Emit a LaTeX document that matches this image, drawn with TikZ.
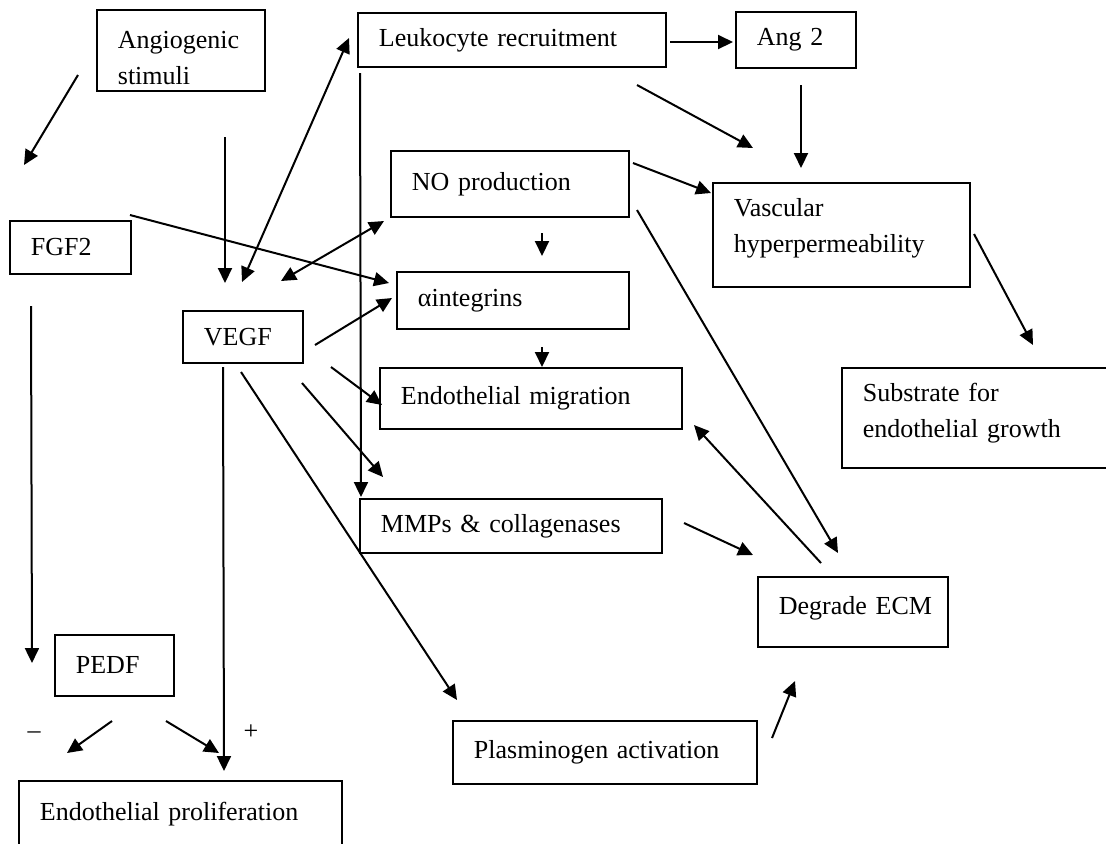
\documentclass[tikz,border=0pt]{standalone}
\usepackage{fontspec}
\setmainfont{Liberation Serif}
\usetikzlibrary{arrows.meta}

\begin{document}
\begin{tikzpicture}[x=0.5pt,y=-0.5pt]
\tikzstyle{every node}=[font=\fontsize{13}{18}\selectfont]
\tikzstyle{box}=[draw, line width=0.9pt, anchor=north west, inner xsep=10.5pt, inner ysep=0pt, align=left]
\tikzstyle{arr}=[line width=1pt, -{Triangle[length=7.5pt,width=7pt]}]
\tikzstyle{arrs}=[line width=1pt, {Triangle[length=7.5pt,width=7pt]}-{Triangle[length=7.5pt,width=7pt]}]
\useasboundingbox (0,0) rectangle (1106,843);
\clip (0,0) rectangle (1106,843);
% boxes
\draw (96,9) node (angio) [box, minimum width=84pt, minimum height=40.5pt, text width=63pt] {\rule{0pt}{16pt}Angiogenic\\stimuli};
\draw (357,12) node (leuk) [box, minimum width=154pt, minimum height=27pt, text width=133pt] {Leukocyte recruitment};
\draw (735,11) node (ang2) [box, minimum width=60pt, minimum height=28pt, text width=39pt] {Ang 2};
\draw (390,150) node (no) [box, minimum width=119pt, minimum height=33pt, text width=98pt] {NO production};
\draw (396,271) node (integ) [box, minimum width=116pt, minimum height=28.5pt, text width=95pt] {αintegrins};
\draw (379,367) node (migr) [box, minimum width=151pt, minimum height=30.5pt, text width=130pt] {Endothelial migration};
\draw (9,220) node (fgf) [box, minimum width=60.5pt, minimum height=26.5pt, text width=39.5pt] {FGF2};
\draw (182,310) node (vegf) [box, minimum width=60pt, minimum height=26pt, text width=39pt] {VEGF};
\draw (712,182) node (vasc) [box, minimum width=128.5pt, minimum height=52pt, text width=107.5pt] {Vascular\\hyperpermeability\rule[-9.5pt]{0pt}{0pt}};
\draw (841,367) node (subst) [box, minimum width=145pt, minimum height=50pt, text width=124pt] {Substrate for\\endothelial growth\rule[-7.5pt]{0pt}{0pt}};
\draw (359,498) node (mmp) [box, minimum width=151pt, minimum height=27pt, text width=130pt] {MMPs \& collagenases};
\draw (757,576) node (degr) [box, minimum width=95pt, minimum height=35pt, text width=74pt] {Degrade~ECM\rule[-6pt]{0pt}{0pt}};
\draw (54,634) node (pedf) [box, minimum width=59.5pt, minimum height=30.5pt, text width=38.5pt] {PEDF};
\draw (452,720) node (plasm) [box, minimum width=152pt, minimum height=31.5pt, text width=131pt] {Plasminogen activation};
\draw (18,780) node (prolif) [box, minimum width=161.5pt, minimum height=33pt, text width=140.5pt] {Endothelial proliferation};
% signs
\draw (34,735) node (minus) {–};
\draw (251,732) node (plus) {+};
% free ends of the arrows
\draw (78,75) coordinate (angioOut);
\draw (24,165) coordinate (fgfIn);
\draw (225,137) coordinate (vegfTop);
\draw (225,283) coordinate (vegfIn);
\draw (242,282) coordinate (vegfL);
\draw (349,38) coordinate (leukIn);
\draw (360,73) coordinate (leukDown);
\draw (361,497) coordinate (mmpIn);
\draw (130,215) coordinate (fgfOut);
\draw (389,283) coordinate (integIn);
\draw (281,281) coordinate (vegfR);
\draw (384,221) coordinate (noIn);
\draw (315,345) coordinate (vegfOutA);
\draw (392,298) coordinate (integInB);
\draw (331,367) coordinate (vegfOutB);
\draw (382,405) coordinate (migrIn);
\draw (302,383) coordinate (vegfOutC);
\draw (383,477) coordinate (mmpInB);
\draw (241,372) coordinate (vegfOutD);
\draw (457,700) coordinate (plasmIn);
\draw (223,367) coordinate (vegfDown);
\draw (224,771) coordinate (prolifIn);
\draw (31,306) coordinate (fgfDown);
\draw (32,663) coordinate (pedfIn);
\draw (112,721) coordinate (pedfOutA);
\draw (67,753) coordinate (minusEnd);
\draw (166,721) coordinate (pedfOutB);
\draw (219,753) coordinate (plusEnd);
\draw (542,233) coordinate (noDown);
\draw (542,256) coordinate (integTop);
\draw (542,347) coordinate (integDown);
\draw (542,367) coordinate (migrTop);
\draw (670,42) coordinate (leukOut);
\draw (733,42) coordinate (ang2In);
\draw (801,85) coordinate (ang2Down);
\draw (801,168) coordinate (vascTop);
\draw (637,85) coordinate (leukOutB);
\draw (753,148) coordinate (vascInA);
\draw (633,163) coordinate (noOut);
\draw (711,193) coordinate (vascInB);
\draw (637,210) coordinate (noOutB);
\draw (838,553) coordinate (degrInA);
\draw (974,234) coordinate (vascOut);
\draw (1033,345) coordinate (substIn);
\draw (821,563) coordinate (degrOut);
\draw (694,425) coordinate (migrInB);
\draw (684,523) coordinate (mmpOut);
\draw (753,555) coordinate (degrInB);
\draw (772,738) coordinate (plasmOut);
\draw (795,681) coordinate (degrInC);
% arrows
\draw[arr] (angioOut) -- (fgfIn);
\draw[arr] (vegfTop) -- (vegfIn);
\draw[arrs] (vegfL) -- (leukIn);
\draw[arr] (leukDown) -- (mmpIn);
\draw[arr] (fgfOut) -- (integIn);
\draw[arrs] (vegfR) -- (noIn);
\draw[arr] (vegfOutA) -- (integInB);
\draw[arr] (vegfOutB) -- (migrIn);
\draw[arr] (vegfOutC) -- (mmpInB);
\draw[arr] (vegfOutD) -- (plasmIn);
\draw[arr] (vegfDown) -- (prolifIn);
\draw[arr] (fgfDown) -- (pedfIn);
\draw[arr] (pedfOutA) -- (minusEnd);
\draw[arr] (pedfOutB) -- (plusEnd);
\draw[arr] (noDown) -- (integTop);
\draw[arr] (integDown) -- (migrTop);
\draw[arr] (leukOut) -- (ang2In);
\draw[arr] (ang2Down) -- (vascTop);
\draw[arr] (leukOutB) -- (vascInA);
\draw[arr] (noOut) -- (vascInB);
\draw[arr] (noOutB) -- (degrInA);
\draw[arr] (vascOut) -- (substIn);
\draw[arr] (degrOut) -- (migrInB);
\draw[arr] (mmpOut) -- (degrInB);
\draw[arr] (plasmOut) -- (degrInC);
\end{tikzpicture}
\end{document}
